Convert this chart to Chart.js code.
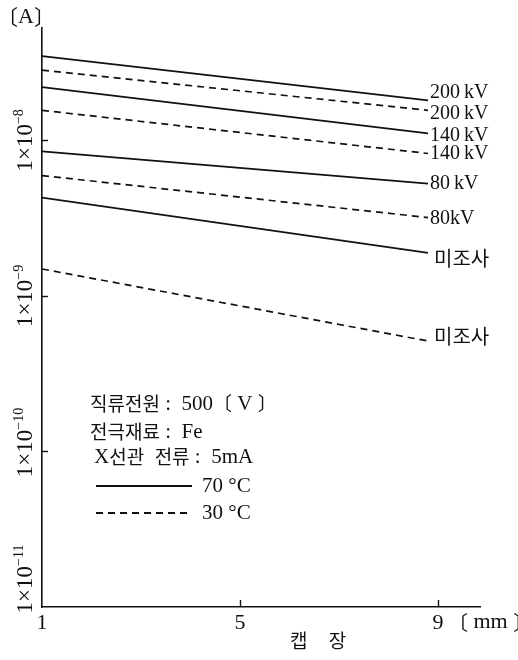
<!DOCTYPE html>
<html>
<head>
<meta charset="utf-8">
<script src="https://cdn.jsdelivr.net/npm/chart.js@4.4.1/dist/chart.umd.min.js"></script>
<style>
  html, body { margin: 0; padding: 0; background: #fff; }
  #wrap { width: 518px; height: 660px; position: relative; }
</style>
</head>
<body>
<div id="wrap"><canvas id="chart"></canvas></div>
<script>
// gap length (mm) at the two ends of each curve
const gapMm = [1, 8.8];

// current [A], 70 °C solid / 30 °C dashed
const solid200 = [3.48e-8, 1.81e-8];
const dashed200 = [2.83e-8, 1.56e-8];
const solid140 = [2.20e-8, 1.11e-8];
const dashed140 = [1.56e-8, 8.24e-9];
const solid80 = [8.49e-9, 5.28e-9];
const dashed80 = [5.94e-9, 3.19e-9];
const solidNone = [4.29e-9, 1.89e-9];
const dashedNone = [1.49e-9, 5.13e-10];

const seriesNames = ["200\u2009kV", "200\u2009kV", "140\u2009kV", "140\u2009kV", "80\u2009kV", "80kV", "미조사", "미조사"];
const seriesDashed = [false, true, false, true, false, true, false, true];

const yTickValues = [1e-8, 1e-9, 1e-10, 1e-11];
const yTickExps = ["−8", "−9", "−10", "−11"];
const xTickValues = [1, 5, 9];

const noteLines = ["직류전원 :  500〔 V 〕", "전극재료 :  Fe", "X선관  전류 :  5mA"];
const tempLabels = ["70 °C", "30 °C"];

const allSeries = [solid200, dashed200, solid140, dashed140, solid80, dashed80, solidNone, dashedNone];

const INK = "#111";
const SERIF = '"Liberation Serif", "DejaVu Serif", serif';
const KR = '"Noto Sans CJK KR", "Noto Sans CJK SC", sans-serif';

// label offsets (px) next to the line ends
const labelDy = [-8, 3, 2, 0, 0, 1, 5, -5];
const yLabelDy = [0, 0, -9, -28];

// draws mixed Hangul / Latin text with two fonts
function drawRuns(ctx, text, x, y, latinPx, krPx, align) {
  const parts = text.split(/([\uAC00-\uD7A3\u3000-\u303F]+)/).filter(s => s.length);
  const runs = parts.map(s => {
    const kr = /[\uAC00-\uD7A3\u3000-\u303F]/.test(s);
    return { s, font: kr ? `${krPx}px ${KR}` : `${latinPx}px ${SERIF}` };
  });
  let total = 0;
  runs.forEach(r => { ctx.font = r.font; r.w = ctx.measureText(r.s).width; total += r.w; });
  let cx = align === "center" ? x - total / 2 : x;
  ctx.textAlign = "left";
  ctx.textBaseline = "middle";
  runs.forEach(r => { ctx.font = r.font; ctx.fillText(r.s, cx, y); cx += r.w; });
}

const decorPlugin = {
  id: "decor",
  afterDraw(chart) {
    const ctx = chart.ctx;
    const xs = chart.scales.x, ys = chart.scales.y;
    const area = chart.chartArea;
    ctx.save();
    ctx.fillStyle = INK;
    ctx.strokeStyle = INK;
    ctx.lineWidth = 1.4;

    // inner tick marks
    yTickValues.slice(0, 3).forEach(v => {
      const py = Math.round(ys.getPixelForValue(v)) + 0.5;
      ctx.beginPath(); ctx.moveTo(area.left, py); ctx.lineTo(area.left + 6, py); ctx.stroke();
    });
    xTickValues.slice(1).forEach(v => {
      const px = Math.round(xs.getPixelForValue(v)) + 0.5;
      ctx.beginPath(); ctx.moveTo(px, area.bottom); ctx.lineTo(px, area.bottom - 7); ctx.stroke();
    });

    // x tick labels
    ctx.textAlign = "center";
    ctx.textBaseline = "middle";
    ctx.font = `22px ${SERIF}`;
    xTickValues.forEach(v => ctx.fillText(String(v), xs.getPixelForValue(v), area.bottom + 16));
    drawRuns(ctx, "〔 mm 〕", xs.getPixelForValue(9) + 10, area.bottom + 15, 22, 20, "left");

    // x axis title
    ctx.font = `19px ${KR}`;
    ctx.textAlign = "center";
    ctx.fillText("캡     장", 318, 641);

    // y tick labels, rotated
    yTickValues.forEach((v, i) => {
      const py = ys.getPixelForValue(v) + yLabelDy[i];
      ctx.save();
      ctx.translate(25, py);
      ctx.rotate(-Math.PI / 2);
      ctx.font = `23px ${SERIF}`;
      const main = "1×10";
      const wMain = ctx.measureText(main).width;
      ctx.font = `14px ${SERIF}`;
      const wExp = ctx.measureText(yTickExps[i]).width;
      const start = -(wMain + wExp) / 2;
      ctx.textAlign = "left";
      ctx.textBaseline = "middle";
      ctx.font = `23px ${SERIF}`;
      ctx.fillText(main, start, 1);
      ctx.font = `14px ${SERIF}`;
      ctx.fillText(yTickExps[i], start + wMain, -6);
      ctx.restore();
    });

    // unit
    drawRuns(ctx, "〔A〕", -3, 17, 22, 21, "left");

    // series labels at line ends
    chart.data.datasets.forEach((ds, i) => {
      const pts = chart.getDatasetMeta(i).data;
      const last = pts[pts.length - 1];
      const kr = seriesNames[i] === "미조사";
      drawRuns(ctx, seriesNames[i], last.x + (kr ? 6 : 2), last.y + labelDy[i], 20, 20, "left");
    });

    // notes block
    const noteY = [404, 432, 457];
    const noteX = [90, 90, 94];
    noteLines.forEach((t, i) => drawRuns(ctx, t, noteX[i], noteY[i], 21, 19, "left"));

    const legY = [486, 513];
    legY.forEach((y, i) => {
      ctx.save();
      ctx.lineWidth = 1.8;
      ctx.setLineDash(i === 1 ? [7, 5] : []);
      ctx.beginPath(); ctx.moveTo(96, y); ctx.lineTo(192, y); ctx.stroke();
      ctx.restore();
      ctx.font = `21px ${SERIF}`;
      ctx.textAlign = "left";
      ctx.textBaseline = "middle";
      ctx.fillText(tempLabels[i], 202, y);
    });

    ctx.restore();
  }
};

const datasets = allSeries.map((vals, i) => ({
  label: seriesNames[i],
  data: vals.map((v, j) => ({ x: gapMm[j], y: v })),
  borderColor: INK,
  borderWidth: 1.7,
  borderDash: seriesDashed[i] ? [7, 5] : [],
  pointRadius: 0,
  tension: 0,
  fill: false
}));

new Chart(document.getElementById("chart"), {
  type: "line",
  data: { datasets },
  options: {
    responsive: true,
    maintainAspectRatio: false,
    animation: false,
    devicePixelRatio: 1,
    layout: { padding: { left: 42, right: 38, top: 28, bottom: 53 } },
    plugins: { legend: { display: false }, tooltip: { enabled: false } },
    scales: {
      x: {
        type: "linear", min: 1, max: 9.85,
        ticks: { display: false },
        grid: { display: false, drawTicks: false },
        border: { display: true, color: INK, width: 1.6 }
      },
      y: {
        type: "logarithmic", min: 1e-11, max: 5.28e-8,
        ticks: { display: false },
        grid: { display: false, drawTicks: false },
        border: { display: true, color: INK, width: 1.6 }
      }
    }
  },
  plugins: [decorPlugin]
});
</script>
</body>
</html>
